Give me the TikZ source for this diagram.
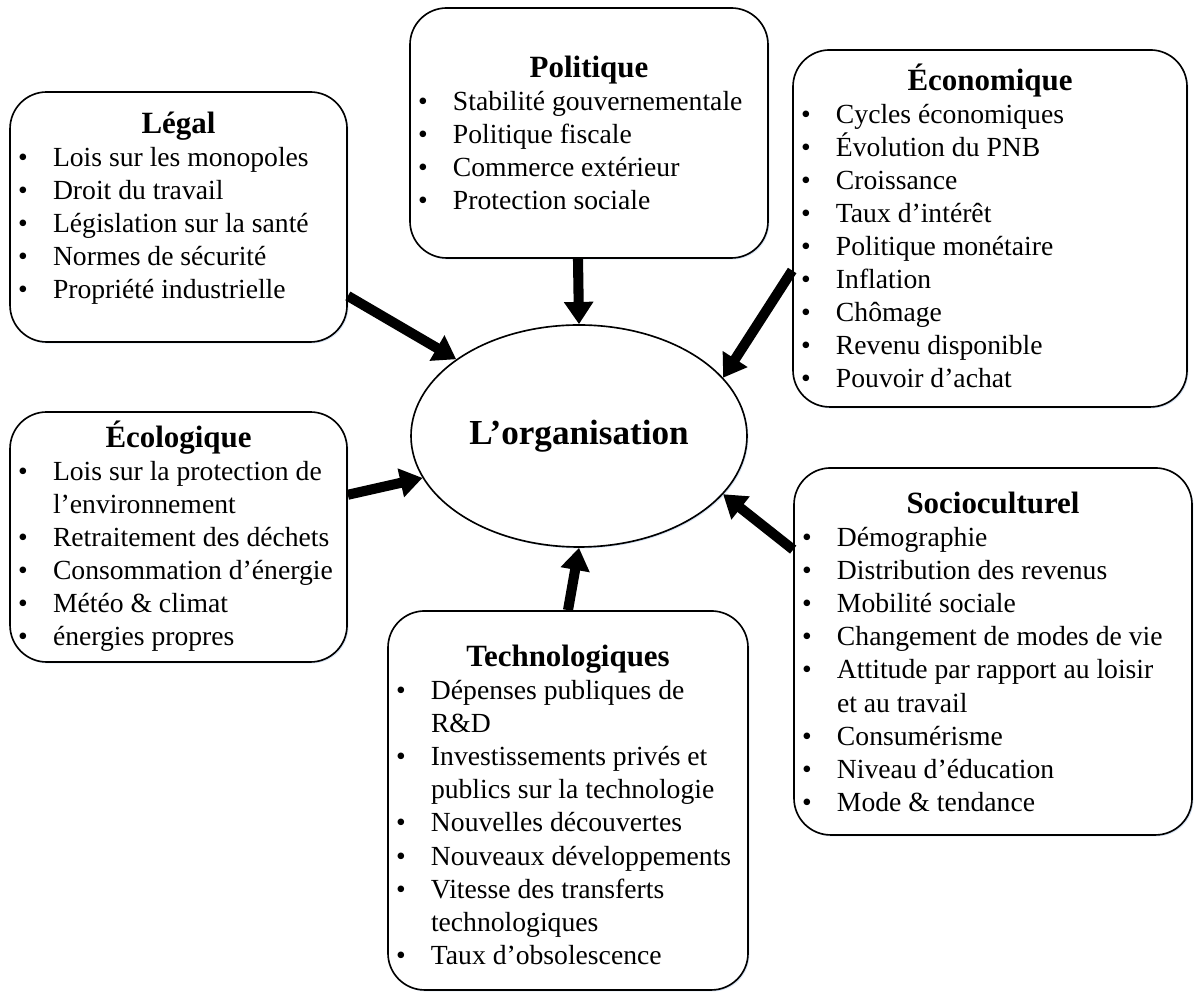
\documentclass[tikz,border=0pt]{standalone}
\usepackage{fontspec}
\setmainfont{Liberation Serif}
\usepackage{tikz}
\usetikzlibrary{arrows.meta,shapes.geometric,shadows}

\definecolor{glow}{RGB}{196,214,238}

\newcommand{\itm}{\makebox[0.525cm][l]{\textbullet}}
\newcommand{\cont}{\hspace*{0.525cm}}
\newcommand{\facttitle}[1]{{\centering\fontsize{13.2pt}{15pt}\selectfont\bfseries #1\par}}

\begin{document}
\begin{tikzpicture}[x=1cm,y=1cm]

\tikzset{
  factor/.style={rectangle, draw=black, line width=0.7pt, fill=white,
                 rounded corners=0.55cm,
                 drop shadow={shadow xshift=0.6pt, shadow yshift=-0.6pt, fill=glow, opacity=0.7}},
  factortext/.style={anchor=base, text width=#1, align=flush left, inner sep=0pt,
                 font=\fontsize{11.8pt}{14.1pt}\selectfont},
  orga/.style={ellipse, draw=black, line width=0.7pt, fill=white,
                 minimum width=5.04cm, minimum height=3.33cm,
                 drop shadow={shadow xshift=0.6pt, shadow yshift=-0.6pt, fill=glow, opacity=0.7},
                 font=\fontsize{15pt}{18pt}\selectfont\bfseries},
  force/.style={line width=4.3pt, -{Triangle[length=9.5pt, width=12pt]}}
}

\useasboundingbox (0,0) rectangle (17.955,14.955);

% Centre
\node[orga] (orga) at (8.685, 8.415) {L’organisation};

% Boxes
\node[factor, minimum width=5.055cm, minimum height=3.75cm]  (legal)  at ( 2.678, 11.700) {};
\node[factor, minimum width=5.37cm,  minimum height=3.75cm]  (polit)  at ( 8.835, 12.960) {};
\node[factor, minimum width=5.91cm,  minimum height=5.355cm] (econ)   at (14.850, 11.528) {};
\node[factor, minimum width=5.055cm, minimum height=3.75cm]  (ecolo)  at ( 2.678,  6.900) {};
\node[factor, minimum width=5.97cm,  minimum height=5.505cm] (socio)  at (14.895,  5.183) {};
\node[factor, minimum width=5.4cm,   minimum height=5.685cm] (techno) at ( 8.520,  2.948) {};

% Texts
\node[factortext=4.815cm] (legaltxt) at ([yshift=-0.63cm]legal.north) {%
  \facttitle{Légal}
  \itm Lois sur les monopoles\\
  \itm Droit du travail\\
  \itm Législation sur la santé\\
  \itm Normes de sécurité\\
  \itm Propriété industrielle};

\node[factortext=5.13cm] (polittxt) at ([yshift=-1.05cm]polit.north) {%
  \facttitle{Politique}
  \itm Stabilité gouvernementale\\
  \itm Politique fiscale\\
  \itm Commerce extérieur\\
  \itm Protection sociale};

\node[factortext=5.67cm] (econtxt) at ([yshift=-0.62cm]econ.north) {%
  \facttitle{Économique}
  \itm Cycles économiques\\
  \itm Évolution du PNB\\
  \itm Croissance\\
  \itm Taux d’intérêt\\
  \itm Politique monétaire\\
  \itm Inflation\\
  \itm Chômage\\
  \itm Revenu disponible\\
  \itm Pouvoir d’achat};

\node[factortext=4.815cm] (ecolotxt) at ([yshift=-0.54cm]ecolo.north) {%
  \facttitle{Écologique}
  \itm Lois sur la protection de\\
  \cont l’environnement\\
  \itm Retraitement des déchets\\
  \itm Consommation d’énergie\\
  \itm Météo \& climat\\
  \itm énergies propres};

\node[factortext=5.73cm] (sociotxt) at ([yshift=-0.7cm]socio.north) {%
  \facttitle{Socioculturel}
  \itm Démographie\\
  \itm Distribution des revenus\\
  \itm Mobilité sociale\\
  \itm Changement de modes de vie\\
  \itm Attitude par rapport au loisir\\
  \cont et au travail\\
  \itm Consumérisme\\
  \itm Niveau d’éducation\\
  \itm Mode \& tendance};

\node[factortext=5.16cm] (technotxt) at ([yshift=-0.85cm]techno.north) {%
  \facttitle{Technologiques}
  \itm Dépenses publiques de\\
  \cont R\&D\\
  \itm Investissements privés et\\
  \cont publics sur la technologie\\
  \itm Nouvelles découvertes\\
  \itm Nouveaux développements\\
  \itm Vitesse des transferts\\
  \cont technologiques\\
  \itm Taux d’obsolescence};

% Arrows
\draw[force] (legal.-25.7)  -- (orga.148);
\draw[force] (polit.-95.5)  -- (orga.90);
\draw[force] (econ.192.4)   -- (orga.22);
\draw[force] (ecolo.14)     -- (orga.195);
\draw[force] (socio.153.4)  -- (orga.-22);
\draw[force] (techno.north) -- (orga.-90);

\end{tikzpicture}
\end{document}
